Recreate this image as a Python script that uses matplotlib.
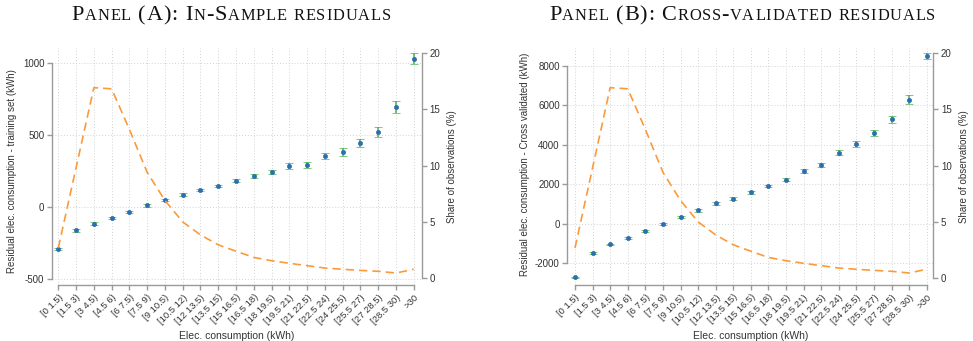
import numpy as np
import matplotlib
matplotlib.use("Agg")
import matplotlib.pyplot as plt
from matplotlib.offsetbox import TextArea, HPacker, AnnotationBbox

# Consumption bins
categories = ["[0 1.5)", "[1.5 3)", "[3 4.5)", "[4.5 6)", "[6 7.5)", "[7.5 9)",
              "[9 10.5)", "[10.5 12)", "[12 13.5)", "[13.5 15)", "[15 16.5)",
              "[16.5 18)", "[18 19.5)", "[19.5 21)", "[21 22.5)", "[22.5 24)",
              "[24 25.5)", "[25.5 27)", "[27 28.5)", "[28.5 30)", ">30"]

# Panel A: in-sample residuals (kWh) and half-width of confidence interval
resid_in = [-295, -164, -118, -78, -37, 10, 47, 83, 116, 144, 181,
            213, 241, 283, 290, 352, 378, 440, 519, 694, 1028]
ci_in = [9, 9, 9, 9, 9, 9, 9, 9, 10, 10, 10,
         12, 14, 18, 20, 23, 28, 28, 32, 43, 39]

# Panel B: cross-validated residuals (kWh) and half-width of confidence interval
resid_cv = [-2712, -1465, -1044, -724, -370, 0, 320, 673, 1027, 1279, 1599,
            1919, 2239, 2660, 2980, 3603, 4024, 4596, 5286, 6279, 8485]
ci_cv = [40, 40, 40, 40, 40, 45, 50, 55, 60, 60, 67,
         67, 84, 100, 118, 135, 150, 160, 168, 220, 168]

# Share of observations in each bin (%)
share = [2.7, 9.8, 16.9, 16.8, 13.2, 9.4, 6.9, 5.0, 3.85, 2.97, 2.4,
         1.85, 1.56, 1.33, 1.12, 0.91, 0.8, 0.7, 0.62, 0.47, 0.8]

W, H = 973, 341
fig = plt.figure(figsize=(W / 100, H / 100), dpi=100)

SANS = "Liberation Sans"
SPINE = "#9a9a9a"
GRID = "#d2d2d2"
TXT = "#333333"
ORANGE = "#fb9a3a"
GREEN = "#4cb050"
BLUE = "#2a6fae"


def px_axes(left, right, top, bottom):
    return fig.add_axes([left / W, 1 - bottom / H, (right - left) / W, (bottom - top) / H])


def small_caps(text, xc, yc, big=16, small=11.8, spacing=0.6):
    """Letter-spaced small caps: lowercase letters become smaller capitals."""
    boxes = []
    for ch in text:
        sm = ch.islower()
        boxes.append(TextArea(ch.upper(), textprops=dict(
            fontsize=small if sm else big, family="Liberation Serif", color="#111111")))
    pack = HPacker(children=boxes, align="baseline", pad=0, sep=spacing)
    ab = AnnotationBbox(pack, (xc / W, 1 - yc / H), xycoords="figure fraction",
                        frameon=False, box_alignment=(0.5, 0.5), pad=0)
    fig.add_artist(ab)


def panel(left, right, x0px, x20px, y_ticks, yref, resid, ci, ylabel, ylabel_x, title, title_x):
    top, bottom = 48, 285
    ax = px_axes(left, right, top, bottom)
    step = (x20px - x0px) / 20
    ax.set_xlim(-(x0px - left) / step, 20 + (right - x20px) / step)
    # yref: (value_a, px_a, value_b, px_b) linear map from values to pixels
    va, pa, vb, pb = yref
    k = (pa - pb) / (vb - va)
    ax.set_ylim(va - (bottom - pa) / k, va + (pa - top) / k)

    x = np.arange(len(categories))
    ax.errorbar(x, resid, yerr=ci, fmt="o", ms=3.0, mfc=BLUE, mec=BLUE, mew=0.5,
                ecolor=GREEN, elinewidth=1.1, capsize=2.6, capthick=1.1, zorder=3)

    ax.set_xticks(x)
    ax.set_xticklabels(categories, rotation=45, ha="right", rotation_mode="anchor",
                       fontsize=6.8, color=TXT, family=SANS)
    ax.set_yticks(y_ticks)
    ax.set_yticklabels([str(v) for v in y_ticks], fontsize=7, color=TXT, family=SANS)
    ax.grid(True, linestyle=(0, (1, 2)), color=GRID, linewidth=0.7)
    ax.set_axisbelow(True)
    for s in ("top", "right"):
        ax.spines[s].set_visible(False)
    ax.spines["left"].set_bounds(y_ticks[0], y_ticks[-1])
    ax.spines["bottom"].set_bounds(0, 20)
    for s in ("left", "bottom"):
        ax.spines[s].set_color(SPINE)
        ax.spines[s].set_linewidth(1.0)
    ax.tick_params(axis="both", length=3.5, color=SPINE, width=1.0, pad=2)
    ax.set_xlabel("Elec. consumption (kWh)", fontsize=7.5, color=TXT, family=SANS, labelpad=4)

    fig.text(ylabel_x / W, 1 - ((pa + pb) / 2) / H, ylabel, rotation=90,
             ha="center", va="center", fontsize=7, color=TXT, family=SANS)

    ax2 = ax.twinx()
    k2 = (278.3 - 52.7) / 20
    ax2.set_ylim(-(bottom - 278.3) / k2, (278.3 - top) / k2)
    ax2.plot(x, share, linestyle=(0, (5, 3)), color=ORANGE, linewidth=1.2, zorder=2)
    ax2.set_yticks([0, 5, 10, 15, 20])
    ax2.set_yticklabels(["0", "5", "10", "15", "20"], fontsize=7, color=TXT, family=SANS)
    for s in ("top", "left", "bottom"):
        ax2.spines[s].set_visible(False)
    ax2.spines["right"].set_bounds(0, 20)
    ax2.spines["right"].set_color(SPINE)
    ax2.spines["right"].set_linewidth(1.0)
    ax2.tick_params(axis="y", length=3.5, color=SPINE, width=1.0, pad=2)
    ax2.set_ylabel("Share of observations (%)", fontsize=7, color=TXT, family=SANS, labelpad=5)

    small_caps(title, title_x, 15.5)
    return ax


panel(52, 421.7, 58.3, 413.7, [-500, 0, 500, 1000], (1000, 62.7, -500, 278.7),
      resid_in, ci_in, "Residual elec. consumption - training set (kWh)", 12,
      "Panel (A): In-Sample residuals", 231)

panel(567.3, 933.3, 575, 926.7, [-2000, 0, 2000, 4000, 6000, 8000], (8000, 65.7, -2000, 263.3),
      resid_cv, ci_cv, "Residual elec. consumption - Cross validated (kWh)", 525,
      "Panel (B): Cross-validated residuals", 742)

fig.savefig("out.png", dpi=100)
